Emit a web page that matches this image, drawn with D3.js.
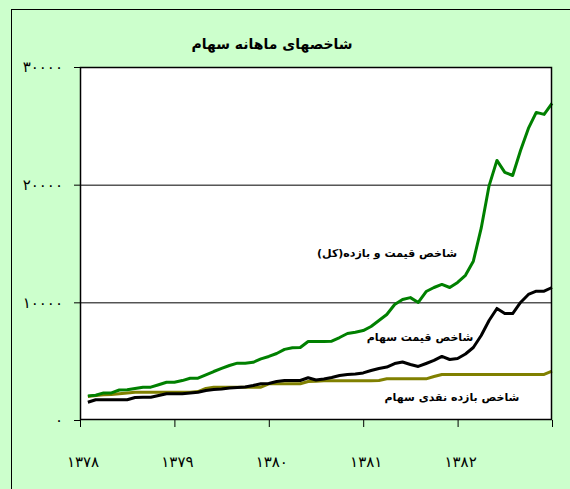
<!DOCTYPE html>
<html>
<head>
<meta charset="utf-8">
<script src="https://cdn.jsdelivr.net/npm/d3@7"></script>
<style>
body { margin: 0; background: #ccffcc; }
svg { display: block; }
</style>
</head>
<body>
<svg></svg>
<script>
"use strict";

var width = 570,
    height = 489;

// month-end values, 1378 .. 1382 (60 months)
var totalIndex = [
    2050, 2100, 2300, 2300, 2550, 2570, 2680, 2790, 2790, 3000, 3210, 3210,
    3350, 3550, 3550, 3830, 4120, 4380, 4630, 4830, 4830, 4900, 5200, 5400,
    5650, 6000, 6140, 6160, 6670, 6670, 6670, 6700, 7010, 7350, 7460, 7600,
    7950, 8460, 8970, 9820, 10240, 10400, 9990, 10920, 11260, 11520, 11260, 11690,
    12300, 13500, 16300, 19900, 22060, 21040, 20780, 22910, 24780, 26140, 25970, 26900
];
var priceIndex = [
    1510, 1720, 1720, 1720, 1720, 1720, 1910, 1940, 1940, 2080, 2230, 2230,
    2230, 2300, 2360, 2510, 2590, 2640, 2720, 2760, 2800, 2930, 3080, 3100,
    3270, 3360, 3360, 3360, 3590, 3400, 3490, 3610, 3780, 3870, 3910, 4000,
    4210, 4380, 4500, 4800, 4930, 4720, 4550, 4800, 5060, 5400, 5140, 5230,
    5610, 6160, 7180, 8460, 9480, 9050, 9050, 9990, 10670, 10950, 10950, 11260
];
var dividendIndex = [
    2000, 2080, 2140, 2170, 2230, 2300, 2360, 2360, 2360, 2360, 2360, 2360,
    2360, 2360, 2420, 2680, 2790, 2790, 2790, 2790, 2790, 2790, 2790, 3080,
    3080, 3080, 3080, 3080, 3270, 3300, 3330, 3330, 3330, 3330, 3330, 3330,
    3330, 3360, 3500, 3500, 3500, 3500, 3500, 3500, 3700, 3870, 3870, 3870,
    3870, 3870, 3870, 3870, 3870, 3870, 3870, 3870, 3870, 3870, 3870, 4150
];
var years = [1378, 1379, 1380, 1381, 1382];
var yTicks = [0, 10000, 20000, 30000];

var seriesNames = ["شاخص قیمت و بازده(کل)", "شاخص قیمت سهام", "شاخص بازده نقدی سهام"];
var title = "شاخصهای ماهانه سهام";

var faDigits = "۰۱۲۳۴۵۶۷۸۹";
function toFa(n) {
    return String(n).replace(/[0-9]/g, function (c) { return faDigits[+c]; });
}

var plotLeft = 80, plotTop = 67, plotRight = 552, plotBottom = 420;

var x = d3.scaleLinear().domain([1378, 1383]).range([plotLeft, plotRight]);
var y = d3.scaleLinear().domain([0, 30000]).range([plotBottom, plotTop]);

var svg = d3.select("svg")
    .attr("width", width)
    .attr("height", height);

// chart area + frame
svg.append("rect")
    .attr("x", 11.5).attr("y", 9.5)
    .attr("width", 600).attr("height", 600)
    .attr("fill", "#ccffcc")
    .attr("stroke", "#000");

svg.append("text")
    .attr("x", 272).attr("y", 49)
    .attr("text-anchor", "middle")
    .style("font-family", "DejaVu Sans")
    .style("font-weight", "bold")
    .style("font-size", "14px")
    .text(title);

// plot area
svg.append("rect")
    .attr("x", plotLeft).attr("y", plotTop)
    .attr("width", plotRight - plotLeft).attr("height", plotBottom - plotTop)
    .attr("fill", "#fff");

// gridlines
svg.append("g")
    .selectAll("line")
    .data(yTicks.slice(1, -1))
    .join("line")
    .attr("x1", plotLeft).attr("x2", plotRight)
    .attr("y1", function (d) { return y(d) + 0.5; })
    .attr("y2", function (d) { return y(d) + 0.5; })
    .attr("stroke", "#000");

var line = d3.line()
    .x(function (d, i) { return x(1378 + (i + 1) / 12); })
    .y(function (d) { return y(d); });

var series = [
    { values: dividendIndex, color: "#808000" },
    { values: priceIndex, color: "#000000" },
    { values: totalIndex, color: "#008000" }
];

svg.append("g")
    .selectAll("path")
    .data(series)
    .join("path")
    .attr("d", function (d) { return line(d.values); })
    .attr("fill", "none")
    .attr("stroke", function (d) { return d.color; })
    .attr("stroke-width", 3)
    .attr("stroke-linejoin", "round");

// plot frame
svg.append("rect")
    .attr("x", plotLeft + 0.5).attr("y", plotTop + 0.5)
    .attr("width", plotRight - plotLeft - 1).attr("height", plotBottom - plotTop - 1)
    .attr("fill", "none")
    .attr("stroke", "#000")
    .attr("stroke-width", 1.5);

// y axis
var yAxis = d3.axisLeft(y)
    .tickValues(yTicks)
    .tickSize(6)
    .tickPadding(11)
    .tickFormat(toFa);

svg.append("g")
    .attr("transform", "translate(" + plotLeft + ",0)")
    .call(yAxis)
    .call(function (g) { g.select(".domain").remove(); })
    .call(function (g) {
        g.selectAll("text")
            .style("font-family", "DejaVu Sans")
            .style("font-size", "15px")
            .style("letter-spacing", "1.5px")
            .attr("fill", "#000");
    });

// x axis
var xAxis = d3.axisBottom(x)
    .tickValues(d3.range(1378, 1384))
    .tickSize(7)
    .tickFormat("");

svg.append("g")
    .attr("transform", "translate(0," + plotBottom + ")")
    .call(xAxis)
    .call(function (g) { g.select(".domain").remove(); });

svg.append("g")
    .selectAll("text")
    .data(years)
    .join("text")
    .attr("x", function (d) { return x(d) + 3; })
    .attr("y", 467)
    .attr("text-anchor", "middle")
    .style("font-family", "DejaVu Sans")
    .style("font-size", "15px")
    .style("letter-spacing", "1.5px")
    .text(toFa);

// series labels
var labelPos = [[387, 257], [420, 341], [452, 401]];
svg.append("g")
    .selectAll("text")
    .data(seriesNames)
    .join("text")
    .attr("x", function (d, i) { return labelPos[i][0]; })
    .attr("y", function (d, i) { return labelPos[i][1]; })
    .attr("text-anchor", "middle")
    .style("font-family", "DejaVu Sans")
    .style("font-weight", "bold")
    .style("font-size", "11px")
    .text(function (d) { return d; });
</script>
</body>
</html>
